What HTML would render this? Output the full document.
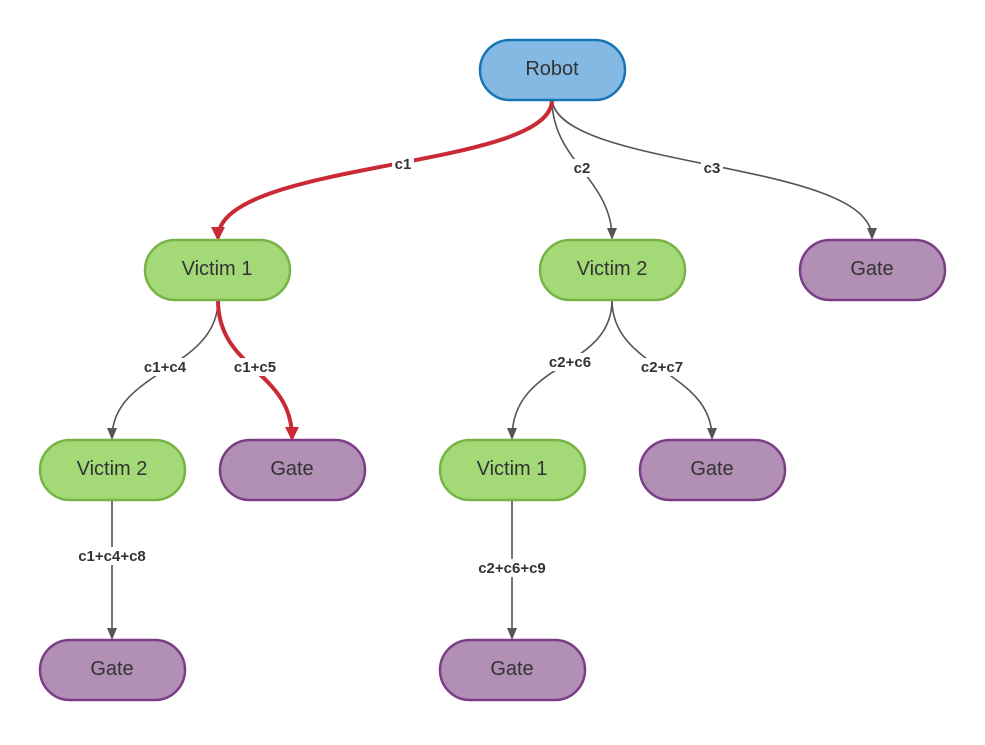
<!DOCTYPE html>
<html><head><style>body{margin:0;background:#fff}</style></head><body>
<svg width="985" height="740" xmlns="http://www.w3.org/2000/svg" font-family="Liberation Sans, sans-serif">
<defs>
<marker id="g" markerWidth="12" markerHeight="12" refX="10" refY="6" orient="auto" markerUnits="userSpaceOnUse"><path d="M0,1 L12,6 L0,11 z" fill="#555"/></marker>
<marker id="r" markerWidth="14" markerHeight="14" refX="11" refY="7" orient="auto" markerUnits="userSpaceOnUse"><path d="M0,0 L14,7 L0,14 z" fill="#c92a35"/></marker>
</defs>
<g fill="none" stroke="#555" stroke-width="1.6">
<path d="M552,100 C552,160 612,180 612,238" marker-end="url(#g)"/>
<path d="M552,100 C560,170 872,160 872,238" marker-end="url(#g)"/>
<path d="M218,300 C218,370 112,370 112,438" marker-end="url(#g)"/>
<path d="M612,300 C612,370 512,360 512,438" marker-end="url(#g)"/>
<path d="M612,300 C612,370 712,370 712,438" marker-end="url(#g)"/>
<path d="M112,500 L112,638" marker-end="url(#g)"/>
<path d="M512,500 L512,638" marker-end="url(#g)"/>
</g>
<g fill="none" stroke="#c92a35" stroke-width="4">
<path d="M552,100 C552,170 218,160 218,238" marker-end="url(#r)"/>
<path d="M218,300 C218,370 292,370 292,438" marker-end="url(#r)"/>
</g>
<g font-size="15" font-weight="bold" fill="#333" text-anchor="middle">
<g fill="#fff" stroke="none">
<rect x="392" y="155" width="22" height="18"/><rect x="571" y="159" width="22" height="18"/><rect x="701" y="159" width="22" height="18"/>
<rect x="140" y="358" width="50" height="18"/><rect x="230" y="358" width="50" height="18"/>
<rect x="545" y="353" width="50" height="18"/><rect x="637" y="358" width="50" height="18"/>
<rect x="72" y="547" width="80" height="18"/><rect x="472" y="559" width="80" height="18"/>
</g>
<text x="403" y="169">c1</text><text x="582" y="173">c2</text><text x="712" y="173">c3</text>
<text x="165" y="372">c1+c4</text><text x="255" y="372">c1+c5</text>
<text x="570" y="367">c2+c6</text><text x="662" y="372">c2+c7</text>
<text x="112" y="561">c1+c4+c8</text><text x="512" y="573">c2+c6+c9</text>
</g>
<g stroke-width="2.5" font-size="20" text-anchor="middle">
<rect x="480" y="40" width="145" height="60" rx="30" fill="#83b9e3" stroke="#1775b5"/>
<rect x="145" y="240" width="145" height="60" rx="30" fill="#a3d977" stroke="#78b346"/>
<rect x="540" y="240" width="145" height="60" rx="30" fill="#a3d977" stroke="#78b346"/>
<rect x="800" y="240" width="145" height="60" rx="30" fill="#b290b6" stroke="#7b3d86"/>
<rect x="40" y="440" width="145" height="60" rx="30" fill="#a3d977" stroke="#78b346"/>
<rect x="220" y="440" width="145" height="60" rx="30" fill="#b290b6" stroke="#7b3d86"/>
<rect x="440" y="440" width="145" height="60" rx="30" fill="#a3d977" stroke="#78b346"/>
<rect x="640" y="440" width="145" height="60" rx="30" fill="#b290b6" stroke="#7b3d86"/>
<rect x="40" y="640" width="145" height="60" rx="30" fill="#b290b6" stroke="#7b3d86"/>
<rect x="440" y="640" width="145" height="60" rx="30" fill="#b290b6" stroke="#7b3d86"/>
<g fill="#333" stroke="none">
<text x="552" y="75">Robot</text>
<text x="217" y="275">Victim 1</text><text x="612" y="275">Victim 2</text><text x="872" y="275">Gate</text>
<text x="112" y="475">Victim 2</text><text x="292" y="475">Gate</text><text x="512" y="475">Victim 1</text><text x="712" y="475">Gate</text>
<text x="112" y="675">Gate</text><text x="512" y="675">Gate</text>
</g>
</g>
</svg>
</body></html>
